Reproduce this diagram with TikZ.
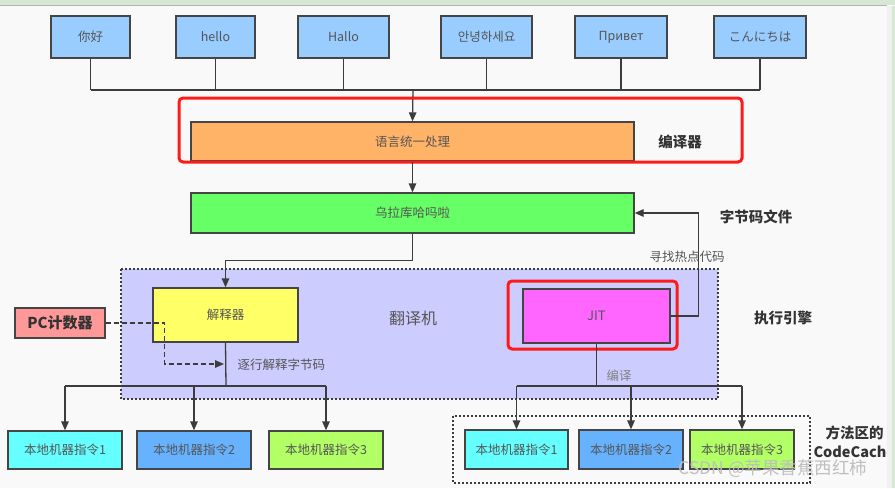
\documentclass[tikz,border=0pt]{standalone}
\usepackage{fontspec}
\setmainfont{Noto Sans CJK SC}
\usetikzlibrary{arrows.meta}
\definecolor{bgc}{HTML}{F9F9F9}
\definecolor{chromeg}{HTML}{D5E8D4}
\definecolor{strokec}{HTML}{454545}
\definecolor{linec}{HTML}{3C3C3C}
\definecolor{textc}{HTML}{555555}
\definecolor{labc}{HTML}{333333}
\definecolor{blueb}{HTML}{99CCFF}
\definecolor{orangeb}{HTML}{FFB366}
\definecolor{greenb}{HTML}{66FF66}
\definecolor{yellowb}{HTML}{FFFF66}
\definecolor{purpleb}{HTML}{CCCCFF}
\definecolor{jitb}{HTML}{FF66FF}
\definecolor{pcb}{HTML}{FF9999}
\definecolor{cyanb}{HTML}{66FFFF}
\definecolor{midb}{HTML}{66B2FF}
\definecolor{limeb}{HTML}{B3FF66}
\definecolor{redh}{HTML}{FF1A1A}
\begin{document}
\begin{tikzpicture}[x=1pt,y=-1pt,
  box/.style={draw=strokec, line width=1.3pt, inner sep=0pt, text=textc, font=\fontsize{12.5}{14}\selectfont},
  conn/.style={draw=linec, line width=1.3pt},
  arr/.style={conn, -{Triangle[width=7.5pt,length=9pt]}},
  dasharr/.style={conn, dash pattern=on 5pt off 3pt, -{Triangle[width=7.5pt,length=9pt]}},
  redbox/.style={draw=redh, line width=3pt, rounded corners=4pt},
  region/.style={draw=linec, line width=1.4pt, dash pattern=on 1.6pt off 2.4pt},
  blab/.style={text=labc, font=\bfseries\fontsize{14.5}{17}\selectfont},
  slab/.style={text=textc, font=\fontsize{12.5}{14}\selectfont}]
\useasboundingbox (0,0) rectangle (895,488);
\fill[bgc] (0,0) rectangle (895,488);
% regions
\fill[purpleb] (121,269) rectangle (718,399);
\draw[region] (121,269) rectangle (718,399);
\draw[region] (453,416) rectangle (810,483);
% top boxes
\node[box, fill=blueb, minimum width=79pt, minimum height=42pt] (n1) at (90.5,37) {你好};
\node[box, fill=blueb, minimum width=79pt, minimum height=42pt] (n2) at (215.5,37) {hello};
\node[box, fill=blueb, minimum width=91pt, minimum height=42pt] (n3) at (343.5,37) {Hallo};
\node[box, fill=blueb, minimum width=91pt, minimum height=42pt] (n4) at (486.5,37) {안녕하세요};
\node[box, fill=blueb, minimum width=92pt, minimum height=42pt] (n5) at (621,37) {Привет};
\node[box, fill=blueb, minimum width=92pt, minimum height=42pt] (n6) at (760,37) {こんにちは};
\coordinate (bus) at (413,90);
\foreach \n in {n1,n2,n3,n4,n5,n6} {\draw[conn] (\n.south) -- (\n.south |- bus);}
\draw[conn] (n1.south |- bus) -- (n6.south |- bus);
% compiler
\node[box, fill=orangeb, minimum width=443pt, minimum height=39pt] (lang) at (412.5,141.5) {语言统一处理};
\draw[arr] (bus) -- (lang.north);
\draw[redbox] (179,98) rectangle (742,162);
\node[blab] (bianyiqi) at (680,142) {编译器};
% bytecode
\node[box, fill=greenb, minimum width=443pt, minimum height=40pt] (bc) at (412.5,213) {乌拉库哈吗啦};
\draw[arr] (lang.south) -- (bc.north);
\node[blab] (zjm) at (756,217) {字节码文件};
% interpreter
\node[box, fill=yellowb, minimum width=145pt, minimum height=54pt] (interp) at (225.5,315) {解释器};
\draw[arr] (bc.south) -- ++(0,27) -| (interp.north);
\node[text=textc, font=\fontsize{16}{18}\selectfont] (fyj) at (413,318) {翻译机};
% JIT
\node[box, fill=jitb, minimum width=147pt, minimum height=54pt, font=\fontsize{13}{15}\selectfont] (jit) at (596.5,316) {JIT};
\draw[redbox] (508,281) rectangle (677,349);
\draw[arr] (jit.east) -- ++(28,0) |- (bc.east);
\node[slab] (xzrd) at (687,257) {寻找热点代码};
\node[blab] (zxyq) at (783,318) {执行引擎};
% PC counter
\node[box, fill=pcb, minimum width=90pt, minimum height=30pt, text=labc, font=\bfseries\fontsize{15}{17}\selectfont] (pc) at (60,323) {PC计数器};
\coordinate (dend) at (224,364);
\draw[dasharr] (pc.east) -- ++(59,0) |- (dend);
\node[slab, anchor=west] (zhjs) at (234,365) {逐行解释字节码};
% interpreter outputs
\coordinate (lbus) at (226,386);
\node[box, fill=cyanb, minimum width=114pt, minimum height=38pt] (a1) at (65,450) {本地机器指令1};
\node[box, fill=midb, minimum width=114pt, minimum height=38pt] (a2) at (194,450) {本地机器指令2};
\node[box, fill=limeb, minimum width=114pt, minimum height=38pt] (a3) at (326,450) {本地机器指令3};
\draw[conn] (interp.south) -- (lbus);
\draw[conn] (a1.north |- lbus) -- (a3.north |- lbus);
\foreach \n in {a1,a2,a3} {\draw[arr] (\n.north |- lbus) -- (\n.north);}
% JIT outputs
\coordinate (rbus) at (596.5,386);
\node[box, fill=cyanb, minimum width=103pt, minimum height=39pt] (c1) at (516.5,449.5) {本地机器指令1};
\node[box, fill=midb, minimum width=104pt, minimum height=39pt] (c2) at (631,449.5) {本地机器指令2};
\node[box, fill=limeb, minimum width=104pt, minimum height=39pt] (c3) at (742,449.5) {本地机器指令3};
\draw[conn] (jit.south) -- (rbus);
\draw[conn] (c1.north |- rbus) -- (c3.north |- rbus);
\foreach \n in {c1,c2,c3} {\draw[arr] (\n.north |- rbus) -- (\n.north);}
\node[slab, text=gray] (by) at (619,376) {编译};
\node[blab, anchor=west] (ffq) at (822,433) {方法区的};
\node[blab, anchor=west] (cc) at (810,452) {CodeCache};
% watermark
\node[text=gray!50, font=\fontsize{17.5}{19}\selectfont] (wm) at (773,469) {CSDN @苹果香蕉西红柿};
% screen chrome
\fill[chromeg] (0,0) rectangle (895,5);
\draw[gray!60, line width=0.8pt] (0,5.5) -- (887,5.5);
\fill[gray!12] (887,5.5) rectangle (895,488);
\fill[chromeg] (892,5.5) rectangle (895,488);
\end{tikzpicture}
\end{document}
